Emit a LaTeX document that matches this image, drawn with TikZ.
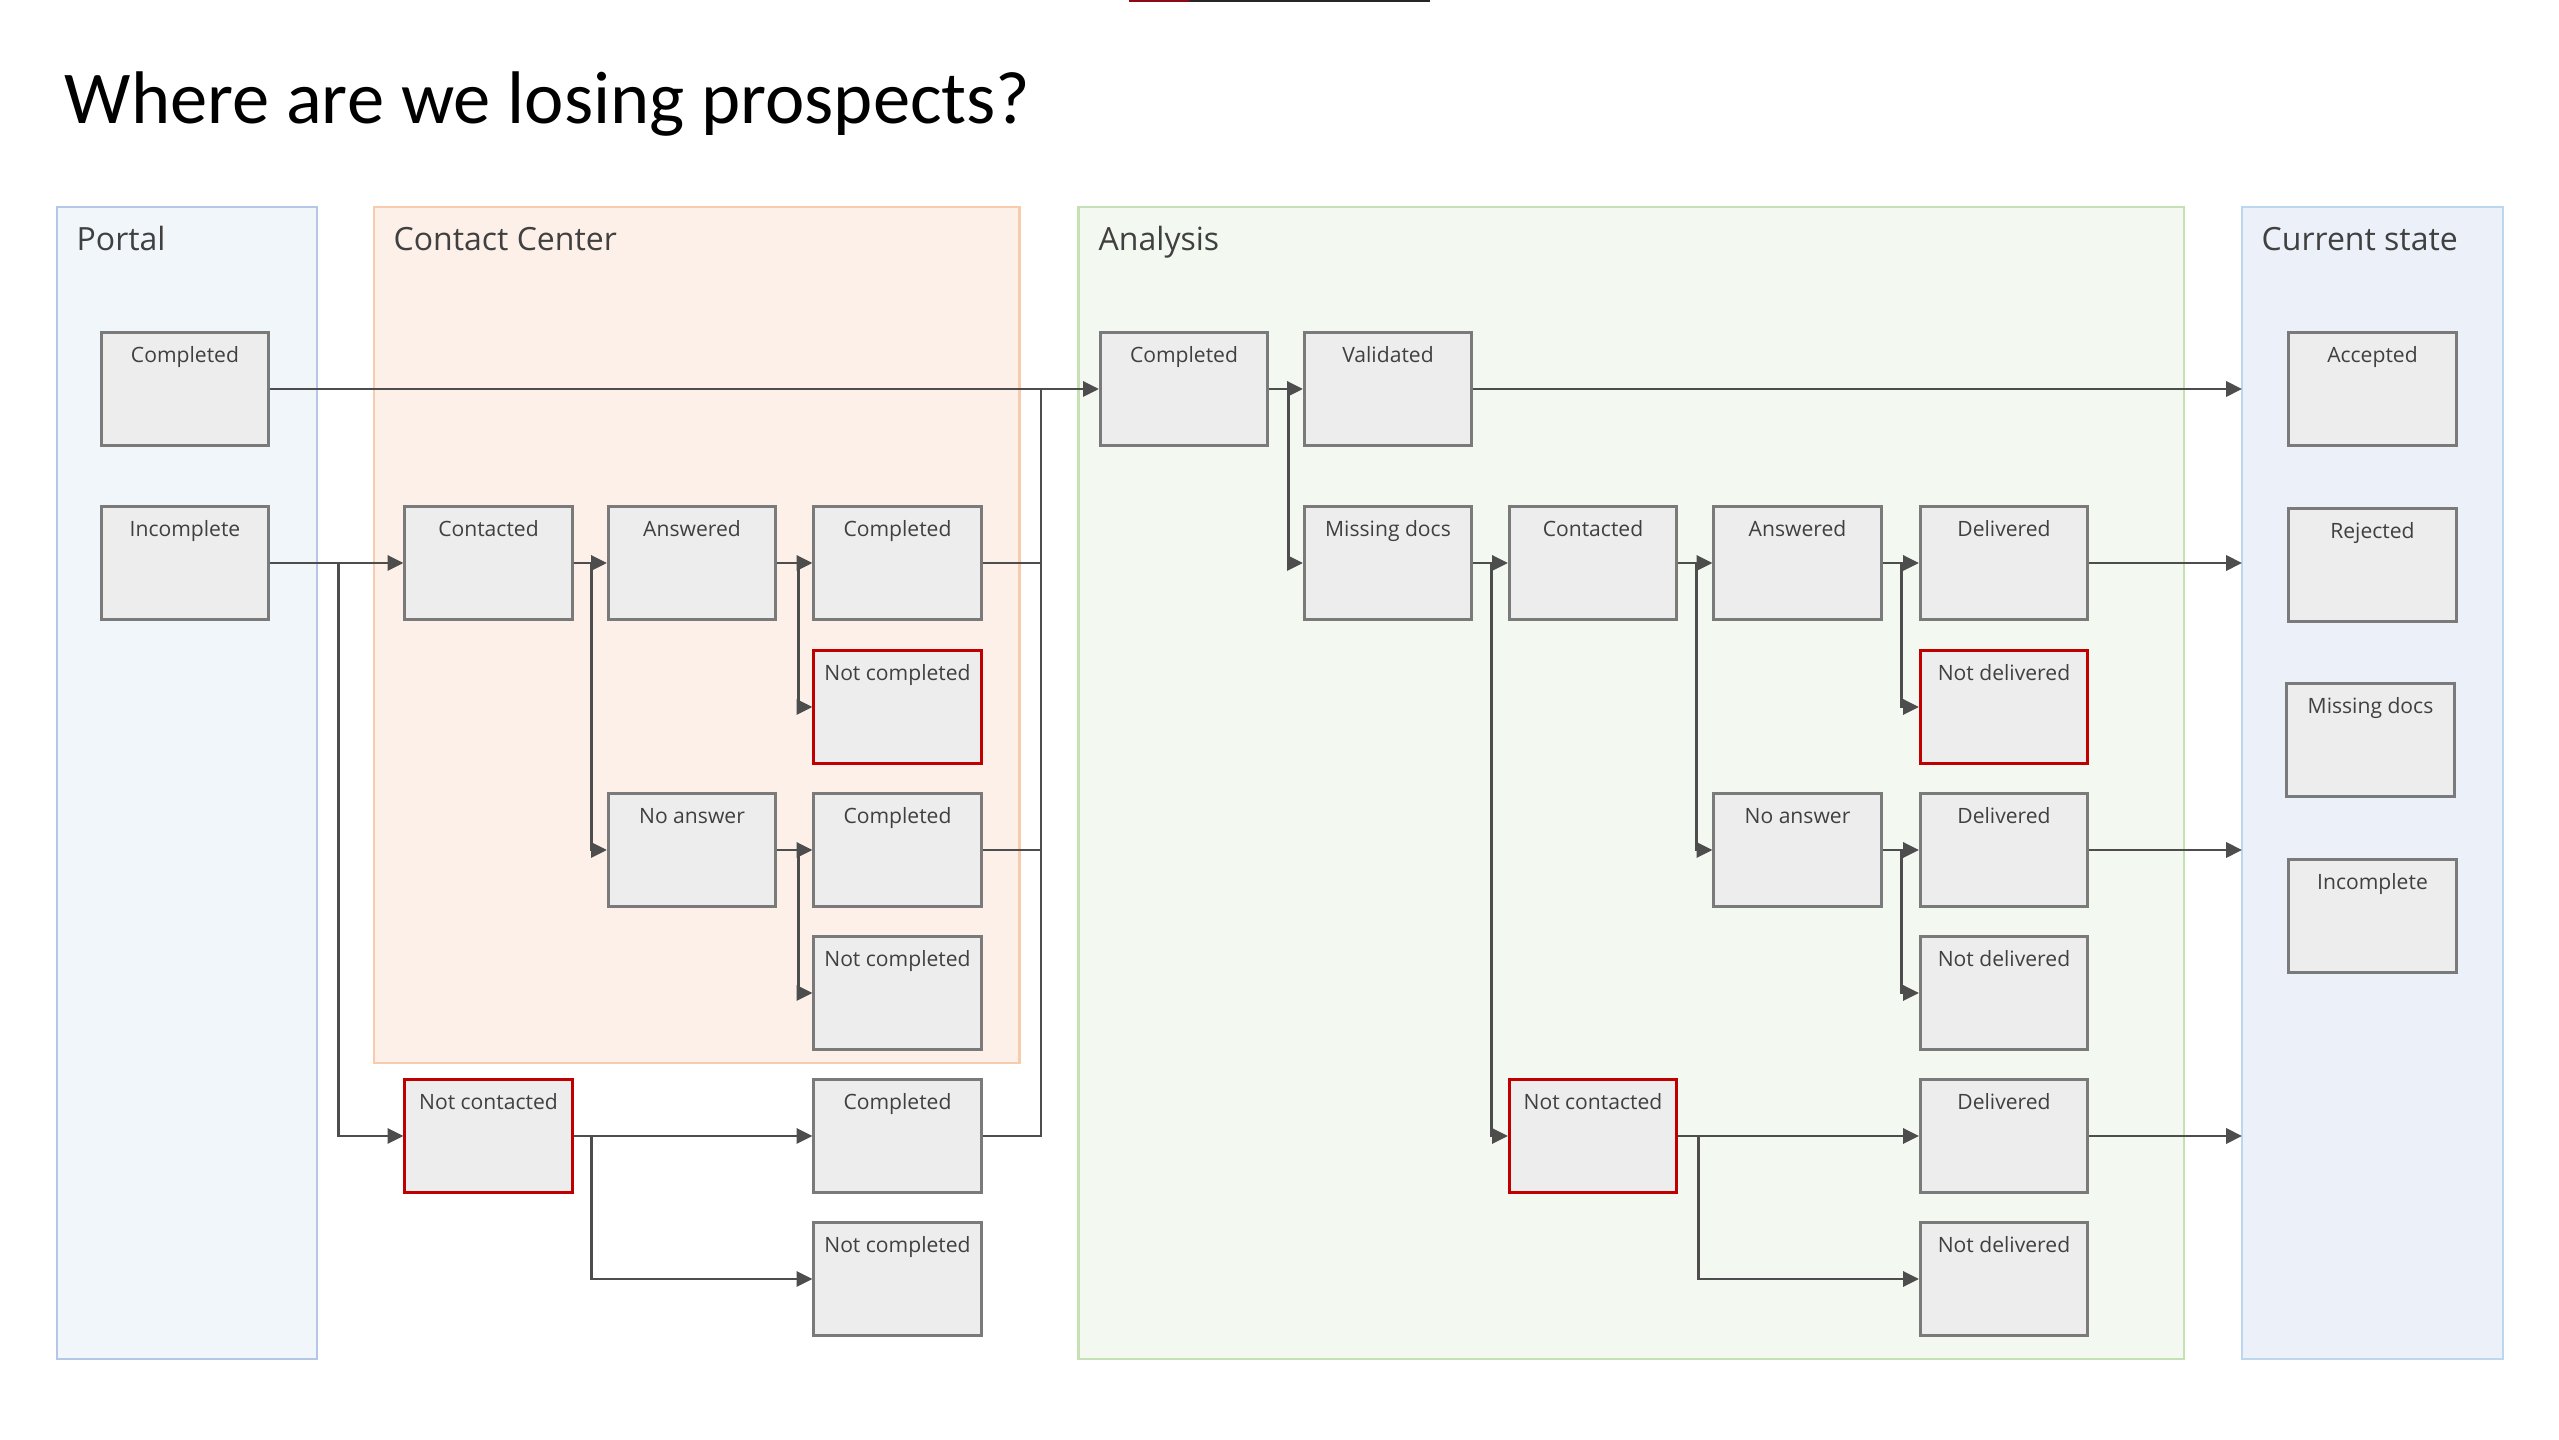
\documentclass[tikz,border=0pt]{standalone}
\usepackage{fontspec}
\setmainfont{Open Sans}
\newfontfamily\titlefont{Carlito}
\usetikzlibrary{arrows.meta}

\definecolor{txtgray}{HTML}{404040}
\definecolor{boxfill}{HTML}{EDEDED}
\definecolor{boxline}{HTML}{7A7A7A}
\definecolor{lossred}{HTML}{C00000}
\definecolor{arrowgray}{HTML}{4D4D4D}
\definecolor{portalfill}{HTML}{F1F6FB}
\definecolor{portalline}{HTML}{B4C7E7}
\definecolor{centerfill}{HTML}{FDF0E9}
\definecolor{centerline}{HTML}{F8CBAD}
\definecolor{analysisfill}{HTML}{F3F8F0}
\definecolor{analysisline}{HTML}{C5E0B4}
\definecolor{statefill}{HTML}{ECF1F9}
\definecolor{stateline}{HTML}{BDD7EE}

\tikzset{
  stepbox/.style={draw=boxline, fill=boxfill, line width=0.8pt, rectangle,
    minimum width=47.6pt, inner xsep=0pt, inner ysep=0pt,
    text height=8.5pt, text depth=23.8pt, text=txtgray,
    font=\fontsize{6}{7}\selectfont},
  lostbox/.style={stepbox, draw=lossred},
  lanetitle/.style={anchor=base west, text=txtgray, inner sep=0pt,
    font=\fontsize{9.1}{11}\selectfont},
  flowline/.style={draw=arrowgray, line width=0.8pt},
  flow/.style={flowline, -{Triangle[length=4.5pt, width=4.3pt]}}
}

\begin{document}
\begin{tikzpicture}
  [x=0.01cm, y=-0.01cm]
  \useasboundingbox[fill=white] (0,0) rectangle (2559,1440);

  % slide marker
  \draw[line width=0.5pt, draw={rgb,255:red,139;green,10;blue,20}] (1129,0.8) -- (1189,0.8);
  \draw[line width=0.5pt, draw={rgb,255:red,38;green,38;blue,38}] (1189,0.8) -- (1430,0.8);

  \node[anchor=base west, inner sep=0pt, font=\titlefont\fontsize{21.2}{25}\selectfont] (title) at (64,124) {Where are we losing prospects?};

  % lanes
  \draw[fill=portalfill, draw=portalline, line width=0.6pt] (56.7,206.7) rectangle (316.7,1359);
  \draw[fill=centerfill, draw=centerline, line width=0.6pt] (374,206.7) rectangle (1019.5,1063);
  \draw[fill=analysisfill, draw=analysisline, line width=0.6pt] (1078.5,206.7) rectangle (2184,1359);
  \draw[fill=statefill, draw=stateline, line width=0.6pt] (2242,206.7) rectangle (2503,1359);
  \node[lanetitle] (portal) at (76,251) {Portal};
  \node[lanetitle] (center) at (393,251) {Contact Center};
  \node[lanetitle] (analysis) at (1098,251) {Analysis};
  \node[lanetitle] (state) at (2261,251) {Current state};

  % portal
  \node[stepbox] (pcomp) at (185,389) {Completed};
  \node[stepbox] (pinc) at (185,563) {Incomplete};

  % contact center
  \node[stepbox] (ccont) at (488.5,563) {Contacted};
  \node[stepbox] (cans) at (692,563) {Answered};
  \node[stepbox] (ccomp1) at (897.5,563) {Completed};
  \node[lostbox] (cnot1) at (897.5,707) {Not completed};
  \node[stepbox] (cnoans) at (692,850) {No answer};
  \node[stepbox] (ccomp2) at (897.5,850) {Completed};
  \node[stepbox] (cnot2) at (897.5,993) {Not completed};
  \node[lostbox] (cnotc) at (488.5,1136) {Not contacted};
  \node[stepbox] (ccomp3) at (897.5,1136) {Completed};
  \node[stepbox] (cnot3) at (897.5,1279) {Not completed};

  % analysis
  \node[stepbox] (acomp) at (1184,389) {Completed};
  \node[stepbox] (aval) at (1388,389) {Validated};
  \node[stepbox] (amiss) at (1388,563) {Missing docs};
  \node[stepbox] (acont) at (1593,563) {Contacted};
  \node[stepbox] (aans) at (1797.5,563) {Answered};
  \node[stepbox] (adel1) at (2004,563) {Delivered};
  \node[lostbox] (andel1) at (2004,707) {Not delivered};
  \node[stepbox] (anoans) at (1797.5,850) {No answer};
  \node[stepbox] (adel2) at (2004,850) {Delivered};
  \node[stepbox] (andel2) at (2004,993) {Not delivered};
  \node[lostbox] (anotc) at (1593,1136) {Not contacted};
  \node[stepbox] (adel3) at (2004,1136) {Delivered};
  \node[stepbox] (andel3) at (2004,1279) {Not delivered};

  % current state
  \node[stepbox] (sacc) at (2372.5,389) {Accepted};
  \node[stepbox] (srej) at (2372.5,565) {Rejected};
  \node[stepbox] (smiss) at (2370.5,740) {Missing docs};
  \node[stepbox] (sinc) at (2372.5,916) {Incomplete};

  \coordinate (bus) at (1041,389);
  \coordinate (stateedge) at (2242,389);

  % flows
  \draw[flow] (pcomp.east) -- (acomp.west);
  \foreach \s in {ccomp1,ccomp2,ccomp3}
    \draw[flowline] (\s.east) -| (bus);

  \foreach \s/\a/\b/\d in {pinc/ccont/cnotc/68, ccont/cans/cnoans/18, cans/ccomp1/cnot1/21,
      cnoans/ccomp2/cnot2/21, cnotc/ccomp3/cnot3/18, acomp/aval/amiss/19,
      amiss/acont/anotc/18, acont/aans/anoans/18, aans/adel1/andel1/19,
      anoans/adel2/andel2/19, anotc/adel3/andel3/20}
  {
    \draw[flow] (\s.east) -- (\a.west);
    \draw[flow] (\s.east) ++(\d,0) |- (\b.west);
  }

  \foreach \s in {aval,adel1,adel2,adel3}
    \draw[flow] (\s.east) -- (\s.east -| stateedge);

\end{tikzpicture}
\end{document}
